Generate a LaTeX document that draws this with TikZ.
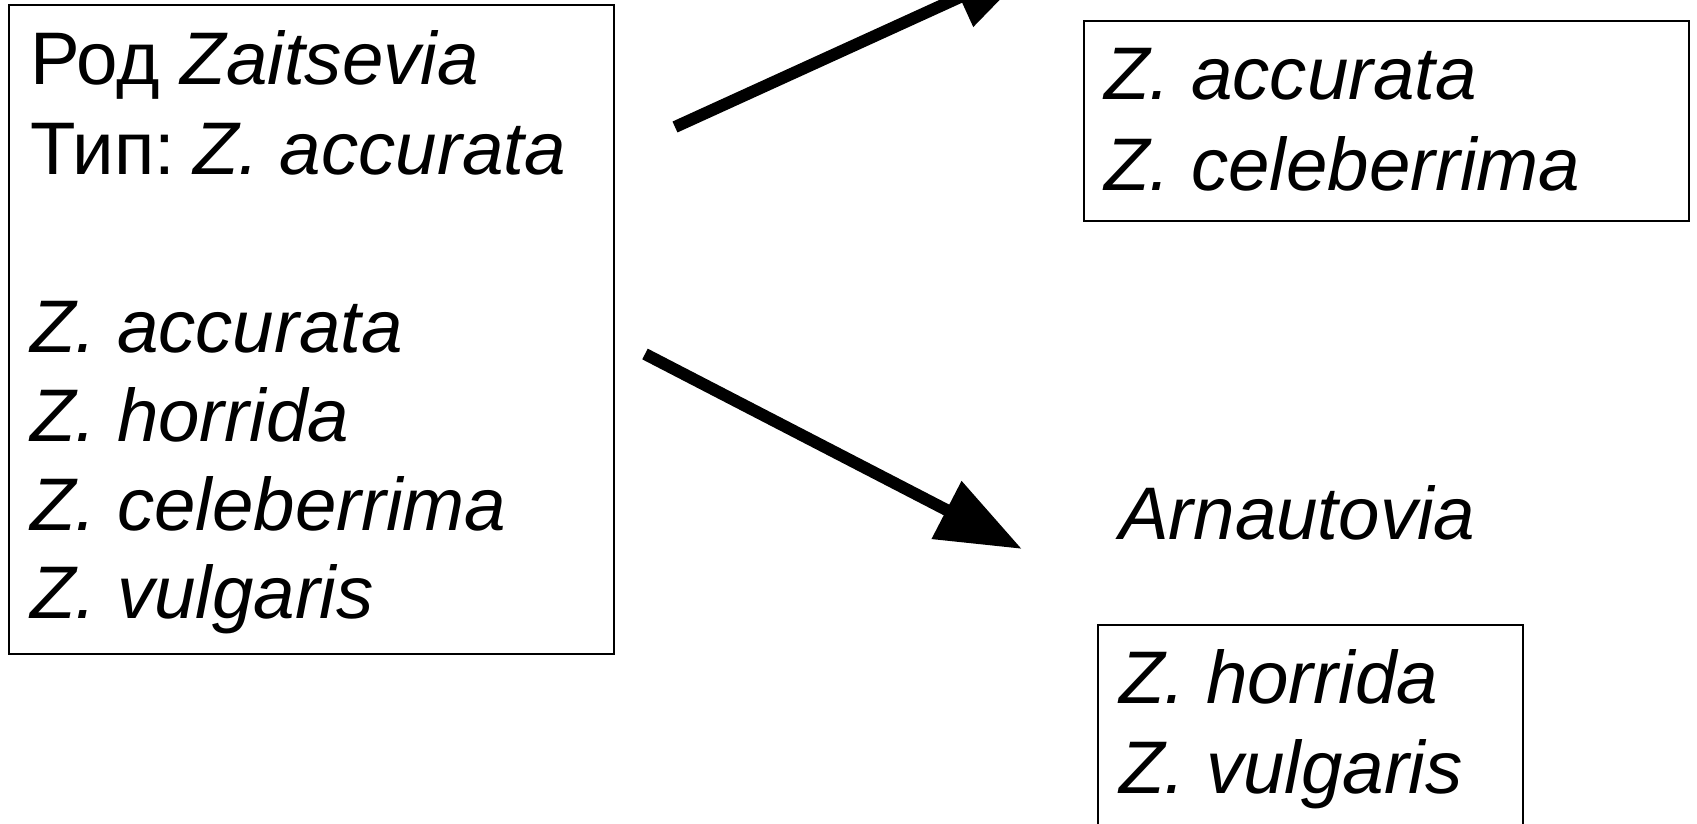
\documentclass[tikz,border=0pt]{standalone}
\usepackage{fontspec}
\setmainfont{Liberation Sans}
\usetikzlibrary{arrows.meta}
\begin{document}
\begin{tikzpicture}[x=1pt,y=-1pt,
  box/.style={draw=black, line width=2pt, inner sep=0pt, rectangle},
  txt/.style={anchor=base west, inner sep=0pt, font=\fontsize{74.5}{89}\selectfont},
  bigarrow/.style={line width=12pt, line cap=butt, -{Triangle[length=85pt,width=62pt]}}]
\path[use as bounding box] (0,0) rectangle (1697,824);
\clip (0,0) rectangle (1697,824);
% boxes
\node[box, minimum width=605pt, minimum height=649pt] (genus) at (311.5,329.5) {};
\node[box, minimum width=605pt, minimum height=200pt] (zaits) at (1386.5,121) {};
\node[box, minimum width=425pt, minimum height=225pt] (arnaut) at (1310.5,737.5) {};
% left box text
\node[txt] (g1) at (30,85) {Род \textit{Zaitsevia}};
\node[txt] (g2) at (30,174) {Тип:\hspace{18pt}\textit{Z. accurata}};
\node[txt] (g3) at (30,352) {\textit{Z. accurata}};
\node[txt] (g4) at (30,441) {\textit{Z. horrida}};
\node[txt] (g5) at (30,530) {\textit{Z. celeberrima}};
\node[txt] (g6) at (30,618) {\textit{Z. vulgaris}};
% top right text
\node[txt] (z1) at (1104,100) {\textit{Z. accurata}};
\node[txt] (z2) at (1104,190) {\textit{Z. celeberrima}};
% Arnautovia
\node[txt] (atitle) at (1119,539) {\textit{Arnautovia}};
\node[txt] (a1) at (1119,703) {\textit{Z. horrida}};
\node[txt] (a2) at (1119,793) {\textit{Z. vulgaris}};
% arrows
\coordinate (s1) at (675,127);
\coordinate (e1) at (1037,-38);
\coordinate (s2) at (645,354);
\coordinate (e2) at (1022,549);
\draw[bigarrow] (s1) -- (e1);
\draw[bigarrow] (s2) -- (e2);
\end{tikzpicture}
\end{document}
